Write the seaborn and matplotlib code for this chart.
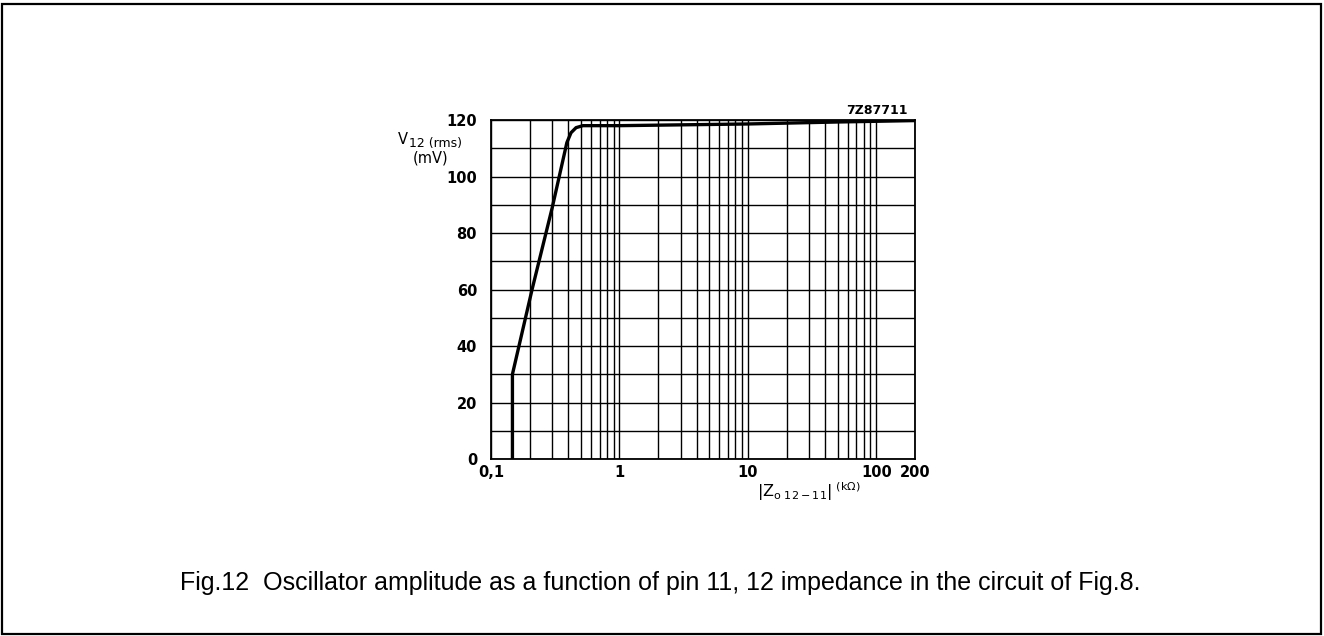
import matplotlib
matplotlib.use("Agg")
import matplotlib.pyplot as plt
import matplotlib.ticker as mticker
from matplotlib.patches import Rectangle
import seaborn as sns
import pandas as pd
import numpy as np

# data
impedance_kohm = [0.147, 0.147, 0.209, 0.30, 0.39, 0.42, 0.46, 0.52, 1.0, 10.0, 50.0, 200.0]
v12_mV = [0, 30, 60, 89, 112, 115.5, 117.3, 118, 118, 118.6, 119.3, 119.8]
xtick_vals = [0.1, 1, 10, 100, 200]
xtick_labels = ["0,1", "1", "10", "100", "200"]
ytick_vals = [0, 20, 40, 60, 80, 100, 120]

sns.set_theme(style="white")
plt.rcParams['font.family'] = ['DejaVu Sans']
plt.rcParams['mathtext.fontset'] = 'dejavusans'
plt.rcParams['text.color'] = 'black'
plt.rcParams['xtick.color'] = 'black'
plt.rcParams['ytick.color'] = 'black'

fig = plt.figure(figsize=(13.24, 6.36), dpi=100)
ax = fig.add_axes([0.3708, 0.2783, 0.3203, 0.5330])

df = pd.DataFrame({"z": impedance_kohm, "v": v12_mV})
sns.lineplot(data=df, x="z", y="v", ax=ax, color="black", linewidth=2.4,
             sort=False, estimator=None, zorder=5)

ax.set_xscale("log")
ax.set_xlim(0.1, 200)
ax.set_ylim(0, 120)

# grid
ax.set_xticks(xtick_vals)
ax.set_xticklabels(xtick_labels)
ax.xaxis.set_minor_locator(mticker.LogLocator(base=10, subs=np.arange(2, 10)))
ax.xaxis.set_minor_formatter(mticker.NullFormatter())
ax.set_yticks(ytick_vals)
ax.yaxis.set_minor_locator(mticker.MultipleLocator(10))
ax.grid(True, which="both", color="black", linewidth=1.0)
ax.set_axisbelow(True)
ax.tick_params(which="both", length=0)
ax.tick_params(axis="x", pad=4, labelsize=10.5)
ax.tick_params(axis="y", pad=10, labelsize=10.5)
for lab in ax.get_xticklabels() + ax.get_yticklabels():
    lab.set_fontweight("bold")
for s in ax.spines.values():
    s.set_color("black")
    s.set_linewidth(1.3)
ax.set_xlabel("")
ax.set_ylabel("")

# axis labels
fig.text(398 / 1324, 1 - 139 / 636, "V", fontsize=10.5, ha="left", va="center")
fig.text(409 / 1324, 1 - 144 / 636, "12 (rms)", fontsize=9, ha="left", va="center")
fig.text(413 / 1324, 1 - 158 / 636, "(mV)", fontsize=10.5, ha="left", va="center")
fig.text(757 / 1324, 1 - 492 / 636, r"$|\mathrm{Z}_{\mathrm{o}\ 12-11}|^{\ (\mathrm{k}\Omega)}$",
         fontsize=11.5, ha="left", va="center")
fig.text(908 / 1324, 1 - 111 / 636, "7Z87711", fontsize=9, fontweight="bold",
         ha="right", va="center")

# caption
fig.text(180 / 1324, 1 - 590 / 636,
         "Fig.12  Oscillator amplitude as a function of pin 11, 12 impedance in the circuit of Fig.8.",
         fontsize=18, family=["Liberation Sans", "DejaVu Sans"], ha="left", va="baseline")

# outer frame
fig.patches.append(Rectangle((2 / 1324, 2 / 636), 1319 / 1324, 630 / 636,
                             transform=fig.transFigure, fill=False,
                             edgecolor="black", linewidth=1.6))

fig.savefig("out.png", dpi=100)
